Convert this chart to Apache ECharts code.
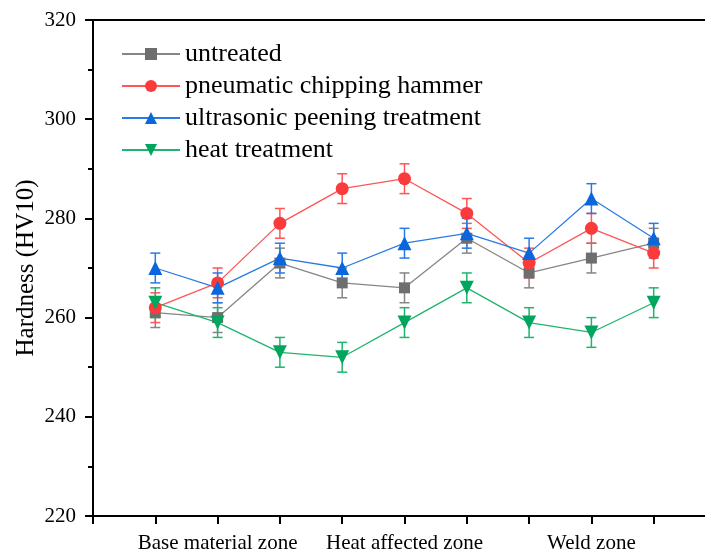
<!DOCTYPE html>
<html>
<head>
<meta charset="utf-8">
<script src="https://cdn.jsdelivr.net/npm/echarts@6/dist/echarts.min.js"></script>
<style>
  html, body { margin: 0; padding: 0; background: #fff; }
  #chart { width: 705px; height: 550px; }
</style>
</head>
<body>
<div id="chart"></div>
<script>
// Measurement positions along the weld cross-section (1..9)
const positions = [1, 2, 3, 4, 5, 6, 7, 8, 9];

// Zone names shown under the x axis and where they sit
const zoneNames = ['Base material zone', 'Heat affected zone', 'Weld zone'];
const zonePositions = [2, 5, 8];

// Hardness readings (HV10)
const untreated   = [261, 260, 271, 267, 266, 276, 269, 272, 275];
const pneumatic   = [262, 267, 279, 286, 288, 281, 271, 278, 273];
const ultrasonic  = [270, 266, 272, 270, 275, 277, 273, 284, 276];
const heatTreated = [263, 259, 253, 252, 259, 266, 259, 257, 263];

// Standard deviations
const untreatedErr   = [3, 3, 3, 3, 3, 3, 3, 3, 3];
const pneumaticErr   = [3, 3, 3, 3, 3, 3, 3, 3, 3];
const ultrasonicErr  = [3, 3, 3, 3, 3, 3, 3, 3, 3];
const heatTreatedErr = [3, 3, 3, 3, 3, 3, 3, 3, 3];

// Y axis ticks
const yTicks = [220, 240, 260, 280, 300, 320];

const FONT = 'Liberation Serif, Times New Roman, serif';

const seriesDefs = [
  { name: 'untreated', values: untreated, errs: untreatedErr, color: '#6e6e6e', line: '#858585', symbol: 'rect', size: 11 },
  { name: 'pneumatic chipping hammer', values: pneumatic, errs: pneumaticErr, color: '#fb3b3b', line: '#ff5555', symbol: 'circle', size: 13 },
  { name: 'ultrasonic peening treatment', values: ultrasonic, errs: ultrasonicErr, color: '#0a66dc', line: '#2a7ae6', symbol: 'triangle', size: 14 },
  { name: 'heat treatment', values: heatTreated, errs: heatTreatedErr, color: '#00a65e', line: '#20b46e', symbol: 'path://M0,0 L10,0 L5,9 Z', size: 14 }
];

function errorBarSeries(def) {
  const data = positions.map((x, i) => [x, def.values[i] - def.errs[i], def.values[i] + def.errs[i]]);
  return {
    type: 'custom',
    name: def.name + ' error',
    silent: true,
    z: 1,
    data: data,
    encode: { x: 0, y: [1, 2] },
    renderItem: function (params, api) {
      const x = api.value(0);
      const lo = api.coord([x, api.value(1)]);
      const hi = api.coord([x, api.value(2)]);
      const cap = 5;
      const style = { stroke: def.line, lineWidth: 1.5 };
      return {
        type: 'group',
        children: [
          { type: 'line', shape: { x1: lo[0], y1: lo[1], x2: hi[0], y2: hi[1] }, style: style },
          { type: 'line', shape: { x1: lo[0] - cap, y1: lo[1], x2: lo[0] + cap, y2: lo[1] }, style: style },
          { type: 'line', shape: { x1: hi[0] - cap, y1: hi[1], x2: hi[0] + cap, y2: hi[1] }, style: style }
        ]
      };
    }
  };
}

function lineSeries(def) {
  return {
    type: 'line',
    name: def.name,
    z: 3,
    data: positions.map((x, i) => [x, def.values[i]]),
    symbol: def.symbol,
    symbolSize: def.size,
    showAllSymbol: true,
    lineStyle: { color: def.line, width: 1.3 },
    itemStyle: { color: def.color },
    emphasis: { disabled: true },
    animation: false
  };
}

const series = [];
seriesDefs.forEach(d => series.push(errorBarSeries(d)));
seriesDefs.forEach(d => series.push(lineSeries(d)));

const chart = echarts.init(document.getElementById('chart'), null, { renderer: 'canvas' });

chart.setOption({
  animation: false,
  backgroundColor: '#fff',
  textStyle: { fontFamily: FONT },
  grid: {
    left: 93, top: 20, bottom: 34, right: -11,
    outerBoundsMode: 'none',
    containLabel: false,
    show: true, borderColor: '#000', borderWidth: 2, backgroundColor: 'transparent'
  },
  legend: {
    orient: 'vertical',
    left: 116,
    top: 36,
    itemWidth: 58,
    itemHeight: 15,
    itemGap: 6,
    data: seriesDefs.map(d => d.name),
    textStyle: { fontFamily: FONT, fontSize: 26, color: '#000', lineHeight: 26 }
  },
  xAxis: {
    type: 'value',
    min: 0,
    max: 10,
    interval: 1,
    splitLine: { show: false },
    axisLine: { lineStyle: { color: '#000', width: 2 } },
    axisTick: { show: true, inside: false, length: 8, lineStyle: { color: '#000', width: 2 } },
    axisLabel: {
      margin: 17,
      fontFamily: FONT,
      fontSize: 21,
      color: '#000',
      formatter: function (v) {
        const k = zonePositions.indexOf(Math.round(v));
        return k >= 0 ? zoneNames[k] : '';
      }
    }
  },
  yAxis: {
    type: 'value',
    min: yTicks[0],
    max: yTicks[yTicks.length - 1],
    interval: yTicks[1] - yTicks[0],
    name: 'Hardness (HV10)',
    nameLocation: 'middle',
    nameMoveOverlap: false,
    nameGap: 54,
    nameTextStyle: { fontFamily: FONT, fontSize: 25, color: '#000' },
    splitLine: { show: false },
    axisLine: { show: true, lineStyle: { color: '#000', width: 2 } },
    axisTick: { show: true, inside: false, length: 8, lineStyle: { color: '#000', width: 2 } },
    minorTick: { show: true, splitNumber: 2, length: 5, lineStyle: { color: '#000', width: 2 } },
    axisLabel: { margin: 17, fontFamily: FONT, fontSize: 21, color: '#000' }
  },
  series: series
});
</script>
</body>
</html>
